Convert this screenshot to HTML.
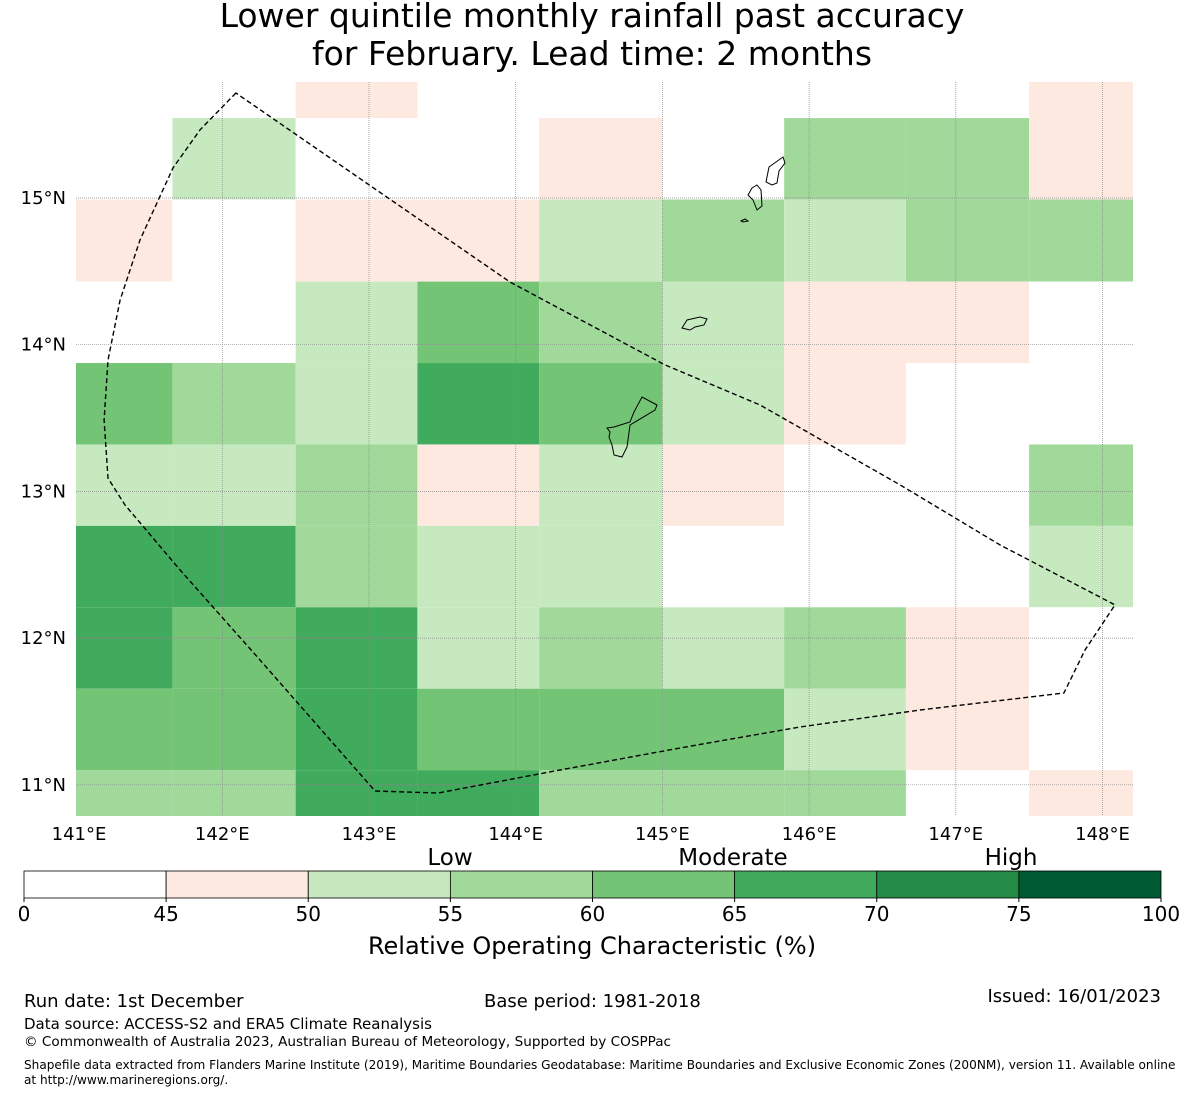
<!DOCTYPE html>
<html><head><meta charset="utf-8">
<style>
html,body{margin:0;padding:0;background:#fff;}
body{width:1185px;height:1095px;overflow:hidden;font-family:"DejaVu Sans","Liberation Sans",sans-serif;}
svg text{font-family:"DejaVu Sans","Liberation Sans",sans-serif;fill:#000;}
</style></head>
<body>
<svg id="chart" width="1185" height="1095" viewBox="0 0 1185 1095" xmlns="http://www.w3.org/2000/svg">
<text x="592" y="27" font-size="33" text-anchor="middle">Lower quintile monthly rainfall past accuracy</text>
<text x="592" y="65" font-size="33" text-anchor="middle">for February. Lead time: 2 months</text>
<g id="cells"></g>
<g id="grid"></g>
<g id="islands" fill="none" stroke="#000" stroke-width="1">
<path d="M642,397 L657,405 L655,410 L630,425 L627,447 L622,457 L614,455 L612,445 L609,437 L610,432 L607,428 L614,427 L630,422 L634,412 Z"/>
<path d="M682,328 L687,320 L700,317 L707,319 L704,325 L695,327 L690,330 L686,329 Z"/>
<path d="M757,185 L761,190 L762,206 L757,210 L753,200 L748,195 L752,188 Z"/>
<path d="M783,157 L785,163 L779,171 L777,183 L772,185 L766,182 L769,167 Z"/>
<path d="M741,221 L745,219 L748,221 L743,222 Z"/>
</g>
<polygon id="eez" fill="none" stroke="#000" stroke-width="1.4" stroke-dasharray="5,3"/>
<g id="xticks"></g>
<g id="yticks"></g>
<g id="colorbar"></g>
<text x="450" y="865" font-size="23" text-anchor="middle">Low</text>
<text x="733" y="865" font-size="23" text-anchor="middle">Moderate</text>
<text x="1011" y="865" font-size="23" text-anchor="middle">High</text>
<text x="592" y="954" font-size="24" text-anchor="middle">Relative Operating Characteristic (%)</text>
<text x="24" y="1007" font-size="18">Run date: 1st December</text>
<text x="484" y="1007" font-size="18">Base period: 1981-2018</text>
<text x="1161" y="1002" font-size="18" text-anchor="end">Issued: 16/01/2023</text>
<text x="24" y="1029" font-size="15">Data source: ACCESS-S2 and ERA5 Climate Reanalysis</text>
<text x="24" y="1046" font-size="13.6">© Commonwealth of Australia 2023, Australian Bureau of Meteorology, Supported by COSPPac</text>
<text x="24" y="1069" font-size="12.1">Shapefile data extracted from Flanders Marine Institute (2019), Maritime Boundaries Geodatabase: Maritime Boundaries and Exclusive Economic Zones (200NM), version 11. Available online</text>
<text x="24" y="1084" font-size="12.1">at http://www.marineregions.org/.</text>
</svg>
<script>
const lonTicks=[141,142,143,144,145,146,147,148];
const latTicks=[11,12,13,14,15];
const lonEdges=[140.83,141.66,142.5,143.33,144.16,145.0,145.83,146.66,147.5,148.33];
const latEdges=[16.1,15.545,14.99,14.43,13.875,13.32,12.765,12.21,11.655,11.1,10.545];
// category index per cell: 0:<45,1:45-50,2:50-55,3:55-60,4:60-65,5:65-70,6:70-75,7:75-100
const row0=[0,0,1,0,0,0,0,0,1];
const row1=[0,2,0,0,1,0,3,3,1];
const row2=[1,0,1,1,2,3,2,3,3];
const row3=[0,0,2,4,3,2,1,1,0];
const row4=[4,3,2,5,4,2,1,0,0];
const row5=[2,2,3,1,2,1,0,0,3];
const row6=[5,5,3,2,2,0,0,0,2];
const row7=[5,4,5,2,3,2,3,1,0];
const row8=[4,4,5,4,4,4,2,1,0];
const row9=[3,3,5,5,3,3,3,0,1];
const rows=[row0,row1,row2,row3,row4,row5,row6,row7,row8,row9];
const cbBounds=[0,45,50,55,60,65,70,75,100];
const cbColors=["#ffffff","#fee9e0","#c7e9c0","#a1d99b","#74c476","#41ab5d","#238b45","#005a32"];
const eezLon=[142.093,141.848,141.664,141.439,141.303,141.221,141.194,141.221,141.337,141.712,142.257,143.041,143.471,144.302,145.12,145.938,146.756,147.737,147.881,148.085,147.301,146.62,145.666,145.018,143.962];
const eezLat=[15.716,15.464,15.205,14.714,14.305,13.896,13.487,13.091,12.907,12.464,11.851,10.958,10.944,11.101,11.251,11.394,11.51,11.626,11.919,12.226,12.635,13.044,13.589,13.862,14.427];

const NS="http://www.w3.org/2000/svg";
const X0=76,X1=1133,Y0=82,Y1=816;
const PX=146.7;
const xs=lon=>75.6+(lon-141)*PX;
const ys=lat=>198+(15-lat)*PX;
const clampX=v=>Math.max(X0,Math.min(X1,v));
const clampY=v=>Math.max(Y0,Math.min(Y1,v));
function mk(tag,attrs,parent){const e=document.createElementNS(NS,tag);for(const k in attrs)e.setAttribute(k,attrs[k]);parent.appendChild(e);return e;}

const cells=document.getElementById('cells');
rows.forEach((r,ri)=>{r.forEach((v,ci)=>{
  const x1=clampX(xs(lonEdges[ci])),x2=clampX(xs(lonEdges[ci+1]));
  const y1=clampY(ys(latEdges[ri])),y2=clampY(ys(latEdges[ri+1]));
  const e=mk('rect',{x:x1,y:y1,width:x2-x1,height:y2-y1,fill:cbColors[v]},cells);
  
  
});});

const grid=document.getElementById('grid');
const xt=document.getElementById('xticks');
lonTicks.forEach(l=>{
  const x=xs(l);
  if(l>141){const g=mk('line',{x1:x,x2:x,y1:Y0,y2:Y1,stroke:'#888',"stroke-width":0.7,"stroke-dasharray":"1,1"},grid);
  
  }
  const t=mk('text',{x:l===141?79:x,y:840,"font-size":18,"text-anchor":"middle"},xt);t.textContent=l+'°E';
  
  
});
const yt=document.getElementById('yticks');
latTicks.forEach(l=>{
  const y=ys(l);
  const g=mk('line',{x1:X0,x2:X1,y1:y,y2:y,stroke:'#888',"stroke-width":0.7,"stroke-dasharray":"1,1"},grid);
  
  
  const t=mk('text',{x:66,y:y+6,"font-size":18,"text-anchor":"end"},yt);t.textContent=l+'°N';
  
  
});

document.getElementById('eez').setAttribute('points',eezLon.map((l,i)=>xs(l).toFixed(1)+','+ys(eezLat[i]).toFixed(1)).join(' '));

const cb=document.getElementById('colorbar');
const CX0=24,CX1=1161,CY=871,CH=27,n=cbColors.length,w=(CX1-CX0)/n;
cbColors.forEach((c,i)=>{
  const e=mk('rect',{x:CX0+i*w,y:CY,width:w,height:CH,fill:c,stroke:'#000',"stroke-width":0.8},cb);
  
  
});
cbBounds.forEach((b,i)=>{
  const x=CX0+i*w;
  mk('line',{x1:x,x2:x,y1:CY+CH,y2:CY+CH+4,stroke:'#000'},cb);
  const t=mk('text',{x:x,y:921,"font-size":20,"text-anchor":"middle"},cb);t.textContent=b;
  
  
});
</script>
</body></html>
